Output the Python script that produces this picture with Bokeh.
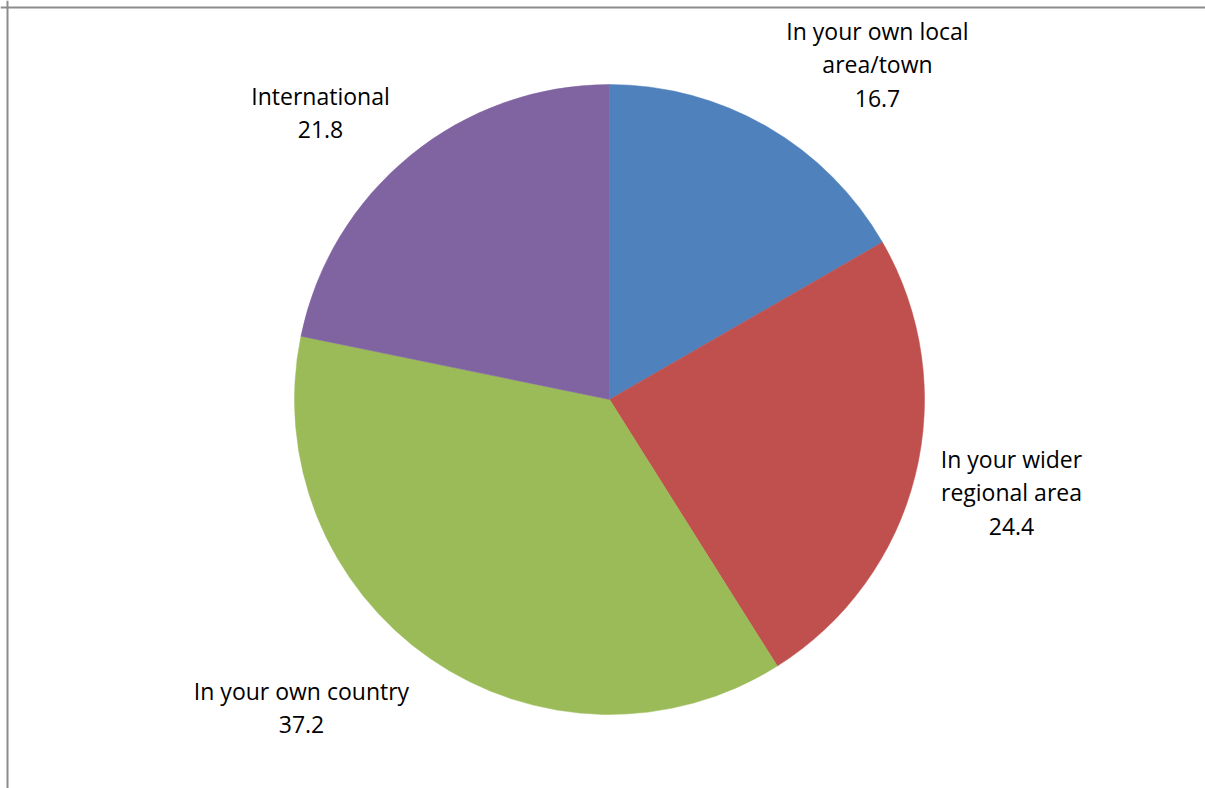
import math
from bokeh.plotting import figure
from bokeh.models import Range1d, Span, ColumnDataSource
from bokeh.core.properties import value
from bokeh.embed import file_html
from bokeh.resources import INLINE

# ---- data ----
categories = ["In your own local\narea/town", "In your wider\nregional area",
              "In your own country", "International"]
values = [16.7, 24.4, 37.2, 21.8]
colors = ["#4F81BD", "#C0504D", "#9BBB59", "#8064A2"]

# ---- layout (page pixel coordinates; y measured from page top) ----
W, H = 1205, 788
cx, cy_top, R = 609, 399, 315
label_centers = [(877, 64), (1011, 492), (301, 707), (320, 112)]

def py(y_top):
    return H - y_top

p = figure(width=W, height=H, output_backend="svg", toolbar_location=None,
           x_range=Range1d(0, W), y_range=Range1d(0, H),
           min_border=0, outline_line_color=None)
p.axis.visible = False
p.grid.visible = False
p.background_fill_color = "white"
p.border_fill_color = "white"

total = sum(values)
starts, ends, cum = [], [], 0.0
for v in values:
    starts.append(math.pi / 2 - 2 * math.pi * cum / total)
    cum += v
    ends.append(math.pi / 2 - 2 * math.pi * cum / total)

src = ColumnDataSource(dict(start=starts, end=ends, color=colors))
p.wedge(x=cx, y=py(cy_top), radius=R, start_angle="start", end_angle="end",
        direction="clock", fill_color="color", line_color="color", line_width=0.5,
        source=src)

lab_text = [f"{c}\n{v}" for c, v in zip(categories, values)]
lsrc = ColumnDataSource(dict(x=[l[0] for l in label_centers],
                             y=[py(l[1]) for l in label_centers],
                             text=lab_text))
p.text(x="x", y="y", text="text", source=lsrc, text_align="center",
       text_baseline="middle", text_font=value("Open Sans"),
       text_font_size="23px", text_color="#000000", text_line_height=1.05)

# chart area border (top and left visible)
p.add_layout(Span(location=7, dimension="height", line_color="#8c8c8c", line_width=2))
p.add_layout(Span(location=py(7), dimension="width", line_color="#8c8c8c", line_width=2))

open("out.html", "w").write(file_html(p, INLINE))
